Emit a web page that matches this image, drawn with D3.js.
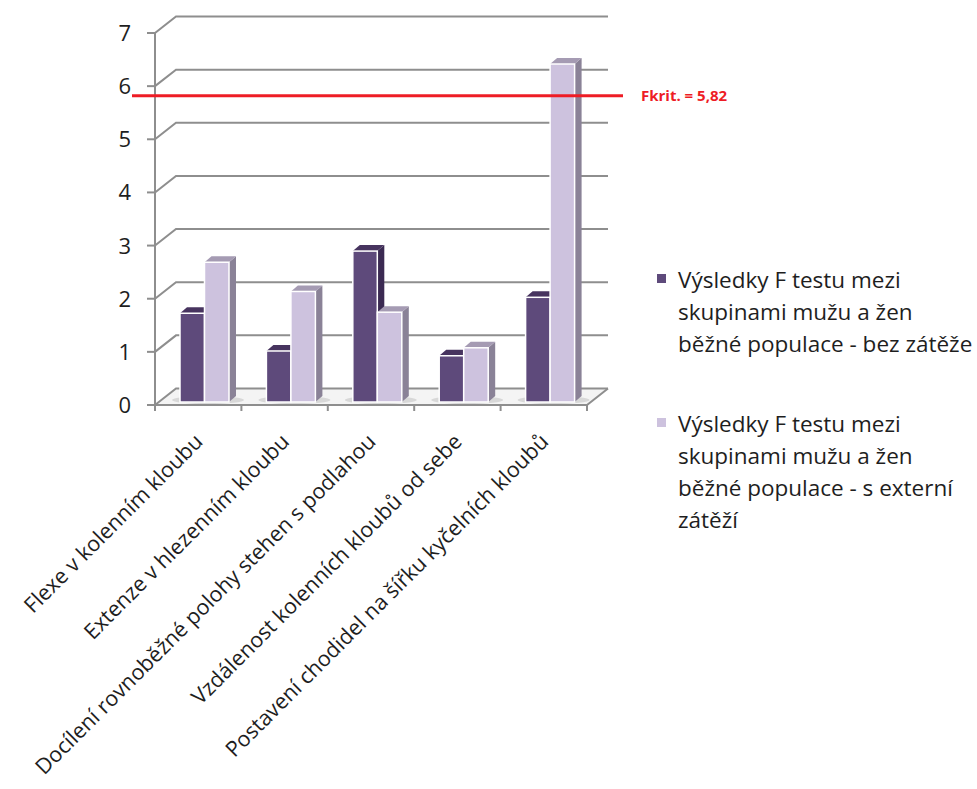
<!DOCTYPE html>
<html>
<head>
<meta charset="utf-8">
<script src="https://cdn.jsdelivr.net/npm/d3@7"></script>
<style>
  body { margin: 0; background: #fff; }
  svg { font-family: "Open Sans", Lato, sans-serif; }
  .grid { fill: none; stroke: #8e8e8e; stroke-width: 2; }
  .ytick { font-size: 22px; fill: #1e1e1e; }
  .xlab { font-size: 21.5px; fill: #1e1e1e; }
  .leg { font-size: 22.5px; fill: #1e1e1e; }
</style>
</head>
<body>
<div id="chart"></div>
<script>
// data
const categories = [
  'Flexe v kolenním kloubu',
  'Extenze v hlezenním kloubu',
  'Docílení rovnoběžné polohy stehen s podlahou',
  'Vzdálenost kolenních kloubů od sebe',
  'Postavení chodidel na šířku kyčelních kloubů'
];
const seriesNames = [
  ['Výsledky F testu mezi', 'skupinami mužu a žen', 'běžné populace - bez zátěže'],
  ['Výsledky F testu mezi', 'skupinami mužu a žen', 'běžné populace - s externí', 'zátěží']
];
const bezZateze = [1.67, 0.96, 2.84, 0.87, 1.97];
const sZatezi   = [2.63, 2.08, 1.69, 1.02, 6.36];
const fKrit = 5.82;
const fKritLabel = 'Fkrit. = 5,82';
const yTicks = [0, 1, 2, 3, 4, 5, 6, 7];

const W = 977, H = 789;
const colors = [
  { front: '#5e4a7b', top: '#47345f', side: '#3b2a52' },
  { front: '#cdc2de', top: '#a59bb3', side: '#8a8297' }
];
// depth offsets for the pseudo 3d wall and bars
const wallDx = 21, wallDy = -16.5;
const barDx = 7, barDy = -6;

let svg = d3.select('#chart').append('svg')
  .attr('width', W).attr('height', H);

let y = d3.scaleLinear().domain([0, 7]).range([405, 33]);
let x = d3.scaleBand().domain(categories).range([155, 587]);
let xs = d3.scaleBand().domain([0, 1]).range([25, 74]);

// floor
svg.append('path')
  .attr('d', `M155,${y(0)} L${155 + wallDx},${y(0) + wallDy} L${587 + wallDx},${y(0) + wallDy} L587,${y(0)} Z`)
  .attr('fill', '#f4f4f4');

// gridlines on back wall with slanted left part
svg.selectAll('path.gl').data(yTicks)
  .join('path')
  .attr('class', 'grid gl')
  .attr('d', d => `M155,${y(d)} L${155 + wallDx},${y(d) + wallDy} L${587 + wallDx},${y(d) + wallDy}`);

// floor front edge + right slant
svg.append('path').attr('class', 'grid')
  .attr('d', `M155,${y(0)} L587,${y(0)} L${587 + wallDx},${y(0) + wallDy}`);

// y axis
svg.append('line').attr('class', 'grid')
  .attr('x1', 155).attr('x2', 155).attr('y1', y(7)).attr('y2', y(0) + 5);
svg.selectAll('line.yt').data(yTicks)
  .join('line').attr('class', 'grid yt')
  .attr('x1', 147).attr('x2', 155)
  .attr('y1', d => y(d)).attr('y2', d => y(d));
svg.selectAll('text.ytick').data(yTicks)
  .join('text').attr('class', 'ytick')
  .attr('x', 131).attr('y', d => y(d) + 8)
  .attr('text-anchor', 'end')
  .text(d => d);

// x ticks
let xTickPos = categories.map(c => x(c)).concat([587]);
svg.selectAll('line.xt').data(xTickPos)
  .join('line').attr('class', 'grid xt')
  .attr('x1', d => d).attr('x2', d => d)
  .attr('y1', y(0)).attr('y2', y(0) + 6);

// bars
let bars = [];
categories.forEach((c, i) => {
  [bezZateze[i], sZatezi[i]].forEach((v, s) => {
    bars.push({ c: c, s: s, v: v });
  });
});
let barBase = y(0) - 3;
let bw = xs.bandwidth();

// soft shadow under each group
svg.selectAll('ellipse.sh').data(categories)
  .join('ellipse')
  .attr('cx', d => x(d) + 53).attr('cy', barBase - 2)
  .attr('rx', 36).attr('ry', 4)
  .attr('fill', '#d8d8d8');

let g = svg.selectAll('g.bar').data(bars).join('g').attr('class', 'bar');
g.append('path')
  .attr('fill', d => colors[d.s].side)
  .attr('d', d => {
    let x1 = x(d.c) + xs(d.s) + bw, yt = y(d.v) - 3;
    return `M${x1},${yt} L${x1 + barDx},${yt + barDy} L${x1 + barDx},${barBase + barDy} L${x1},${barBase} Z`;
  });
g.append('path')
  .attr('fill', d => colors[d.s].top)
  .attr('d', d => {
    let x0 = x(d.c) + xs(d.s), x1 = x0 + bw, yt = y(d.v) - 3;
    return `M${x0},${yt} L${x0 + barDx},${yt + barDy} L${x1 + barDx},${yt + barDy} L${x1},${yt} Z`;
  });
g.append('rect')
  .attr('x', d => x(d.c) + xs(d.s))
  .attr('y', d => y(d.v) - 3)
  .attr('width', bw)
  .attr('height', d => barBase - (y(d.v) - 3))
  .attr('fill', d => colors[d.s].front)
  .attr('stroke', '#fff').attr('stroke-width', 1.5);

// critical value line
svg.append('line')
  .attr('x1', 132).attr('x2', 623)
  .attr('y1', y(fKrit)).attr('y2', y(fKrit))
  .attr('stroke', '#ee1c25').attr('stroke-width', 3);
svg.append('text')
  .attr('x', 641).attr('y', y(fKrit) + 5)
  .attr('fill', '#ee1c25')
  .attr('font-size', 15).attr('font-weight', 'bold')
  .text(fKritLabel);

// category labels rotated
svg.selectAll('text.xlab').data(categories)
  .join('text').attr('class', 'xlab')
  .attr('text-anchor', 'end')
  .attr('transform', d => `translate(${x(d) + x.bandwidth() / 2 + 6},${y(0) + 38}) rotate(-45)`)
  .text(d => d);

// legend
let legY = [288, 432];
seriesNames.forEach((lines, s) => {
  svg.append('rect')
    .attr('x', 657).attr('y', legY[s] - 14)
    .attr('width', 9).attr('height', 9)
    .attr('fill', colors[s].front);
  let t = svg.append('text').attr('class', 'leg').attr('x', 678).attr('y', legY[s]);
  lines.forEach((l, k) => {
    t.append('tspan').attr('x', 678).attr('y', legY[s] + k * 32).text(l);
  });
});
</script>
</body>
</html>
